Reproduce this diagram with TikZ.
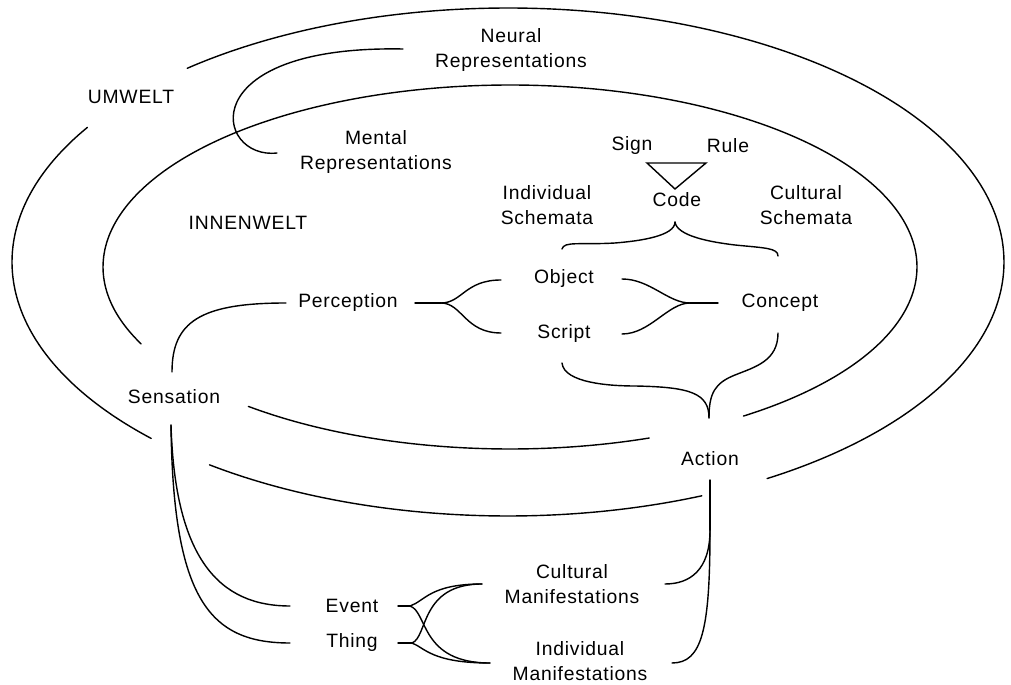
\documentclass[tikz,border=0pt]{standalone}
\usepackage{fontspec}
\setmainfont[LetterSpace=4]{Liberation Sans}
\usetikzlibrary{calc}
\begin{document}
\begin{tikzpicture}[x=0.02cm,y=-0.02cm,
  lbl/.style={inner sep=0pt, align=center, font=\fontsize{11}{14.2}\selectfont},
  conn/.style={draw, line width=0.8pt, line cap=round},
  ring/.style={draw, line width=0.8pt, line cap=round, samples=120, smooth}]
\useasboundingbox[fill=white] (0,0) rectangle (1011,685);

% ---------------- labels ----------------
\node[lbl] (neural)    at (511,50)  {Neural\\Representations};
\node[lbl] (umwelt)    at (131,97)  {UMWELT};
\node[lbl] (mental)    at (376,152) {Mental\\Representations};
\node[lbl] (innen)     at (248,223) {INNENWELT};
\node[lbl] (sign)      at (632,146) {Sign};
\node[lbl] (rule)      at (728,146) {Rule};
\node[lbl] (code)      at (677,200) {Code};
\node[lbl] (indsch)    at (547,205) {Individual\\Schemata};
\node[lbl] (cultsch)   at (806,205) {Cultural\\Schemata};
\node[lbl] (object)    at (564,279) {Object};
\node[lbl] (perception) at (348,303) {Perception};
\node[lbl] (concept)   at (780,303) {Concept};
\node[lbl] (script)    at (564,334) {Script};
\node[lbl] (sensation) at (174,397) {Sensation};
\node[lbl] (action)    at (710,459) {Action};
\node[lbl] (cultman)   at (572,584) {Cultural\\Manifestations};
\node[lbl] (event)     at (352,606) {Event};
\node[lbl] (thing)     at (352,643) {Thing};
\node[lbl] (indman)    at (580,661) {Individual\\Manifestations};

% ---------------- rings ----------------
% outer (Umwelt)
\draw[ring, domain=229.7:418.5] plot ({508+496*cos(\x)},{262+254*sin(\x)});
\draw[ring, domain=136:212]     plot ({508+496*cos(\x)},{262+254*sin(\x)});
\draw[ring, domain=67:127]      plot ({508+496*cos(\x)},{262+254*sin(\x)});
% inner (Innenwelt)
\draw[ring, domain=155:415]     plot ({510+407*cos(\x)},{267+182*sin(\x)});
\draw[ring, domain=70:130]      plot ({510+407*cos(\x)},{267+182*sin(\x)});

% ---------------- junction points ----------------
\coordinate (jp)  at ($(perception)+(93,0)$);
\coordinate (jc)  at ($(concept)+(-90,0)$);
\coordinate (tipc) at ($(code)+(-2,22)$);
\coordinate (tipa) at ($(action)+(-1,-41)$);
\coordinate (ja)  at ($(action)+(0,71)$);
\coordinate (je)  at ($(event)+(58,0)$);
\coordinate (jt)  at ($(thing)+(60,0)$);
\coordinate (cmL) at ($(cultman)+(-90,0)$);
\coordinate (imL) at ($(indman)+(-90,2)$);
\coordinate (js)  at ($(sensation)+(-3,28)$);

% ---------------- connectors ----------------
% Neural -- Mental
\draw[conn] ($(neural)+(-108,-1)$) .. controls +(-213,-4) and +(-62,7) .. ($(mental)+(-99,1)$);

% Sensation -- Perception
\draw[conn] ($(sensation)+(-2,-25)$) .. controls +(0,-50) and +(-86,0) .. ($(perception)+(-62,0)$);

% Perception -- Object / Script
\draw[conn] ($(perception)+(67,0)$) -- (jp);
\draw[conn] (jp) .. controls +(21,0) and +(-36,0) .. ($(object)+(-63,1)$);
\draw[conn] (jp) .. controls +(21,0) and +(-36,0) .. ($(script)+(-63,-1)$);

% Object / Script -- Concept
\draw[conn] ($(object)+(58,0)$) .. controls +(28,0) and +(-22,0) .. (jc);
\draw[conn] ($(script)+(58,0)$) .. controls +(28,0) and +(-22,0) .. (jc);
\draw[conn] (jc) -- ($(concept)+(-62,0)$);

% Sign / Rule triangle
\draw[conn, line join=miter] ($(code)+(-30,-37)$) -- ($(code)+(29,-37)$) -- ($(code)+(-2,-11)$) -- cycle;

% Code brace (Individual / Cultural schemata)
\draw[conn] (tipc) .. controls +(0,14) and +(25,-2) .. ($(code)+(-62,43)$)
                   .. controls +(-35,2) and +(2,-8) .. ($(code)+(-115,49)$);
\draw[conn] (tipc) .. controls +(2,14) and +(-25,-3) .. ($(code)+(58,45)$)
                   .. controls +(30,3) and +(0,-8) .. ($(code)+(101,56)$);

% Script / Concept -- Action brace
\draw[conn] ($(script)+(-2,29)$) .. controls +(2,20) and +(-25,0) .. ($(action)+(-75,-73)$)
                                 .. controls +(55,1) and +(0,-25) .. (tipa);
\draw[conn] ($(concept)+(-2,30)$) .. controls +(0,28) and +(20,-8) .. ($(action)+(25,-84)$)
                                  .. controls +(-20,8) and +(0,-25) .. (tipa);

% Action -- Manifestations
\draw[conn] ($(action)+(0,21)$) -- (ja);
\draw[conn] (ja) .. controls +(0,40) and +(25,0) .. ($(cultman)+(93,0)$);
\draw[conn] (ja) .. controls +(0,100) and +(30,0) .. ($(indman)+(92,2)$);

% Sensation -- Event / Thing
\draw[conn] (js) .. controls +(4,135) and +(-70,0) .. ($(event)+(-62,0)$);
\draw[conn] (js) .. controls +(2,175) and +(-80,0) .. ($(thing)+(-62,0)$);

% Event / Thing -- Manifestations
\draw[conn] ($(event)+(46,0)$) -- (je);
\draw[conn] ($(thing)+(46,0)$) -- (jt);
\draw[conn] (je) .. controls +(15,-5) and +(-52,0) .. (cmL);
\draw[conn] (je) .. controls +(18,6) and +(-70,0) .. (imL);
\draw[conn] (jt) .. controls +(16,-6) and +(-62,0) .. (cmL);
\draw[conn] (jt) .. controls +(13,5) and +(-58,0) .. (imL);
\end{tikzpicture}
\end{document}
